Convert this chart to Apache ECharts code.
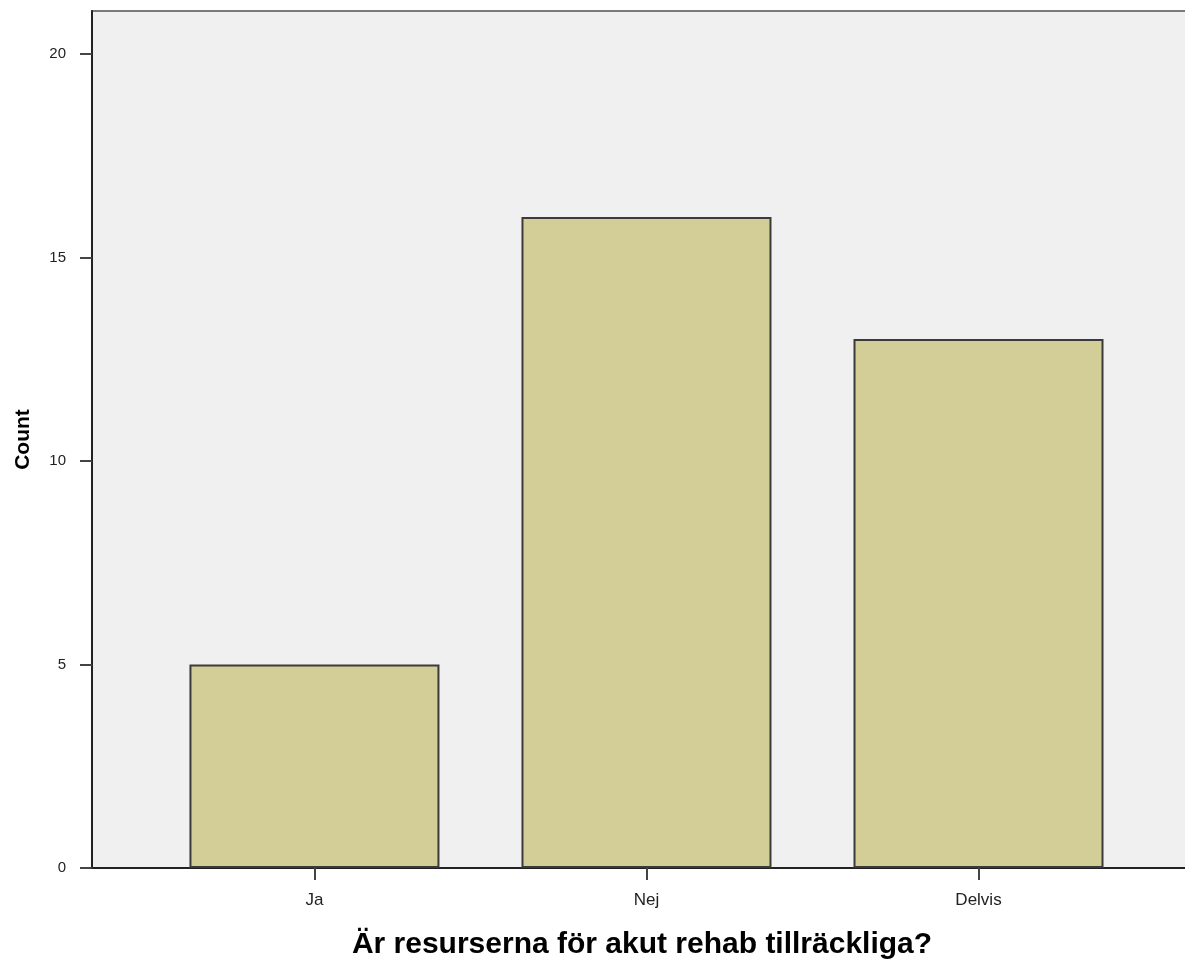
<!DOCTYPE html>
<html>
<head>
<meta charset="utf-8">
<script src="https://cdn.jsdelivr.net/npm/echarts@6/dist/echarts.min.js"></script>
<style>
html,body{margin:0;padding:0;background:#fff;}
#chart{width:1185px;height:959px;}
</style>
</head>
<body>
<div id="chart"></div>
<script>
const categories = ['Ja', 'Nej', 'Delvis'];
const counts = [5, 16, 13];
const yTicks = [0, 5, 10, 15, 20];

const chart = echarts.init(document.getElementById('chart'), null, {renderer: 'canvas'});
const font = 'Liberation Sans, Arial, sans-serif';
const option = {
  animation: false,
  backgroundColor: '#ffffff',
  grid: {
    left: 92, top: 11, width: 1100, bottom: 91,
    outerBoundsMode: 'none',
    containLabel: false,
    show: true, backgroundColor: '#f0f0f0', borderColor: '#7a7a7a', borderWidth: 2
  },
  xAxis: {
    type: 'value',
    min: -0.670, max: 2.643,
    name: 'Är resurserna för akut rehab tillräckliga?',
    nameLocation: 'middle',
    nameGap: 62,
    nameTextStyle: {fontFamily: font, fontWeight: 'bold', fontSize: 30, color: '#000'},
    axisLine: {show: true, onZero: false, lineStyle: {color: '#222', width: 2}},
    axisTick: {show: true, customValues: [0, 1, 2], length: 12, lineStyle: {color: '#444', width: 2}},
    axisLabel: {
      customValues: [0, 1, 2], margin: 24,
      fontFamily: font, fontSize: 17, color: '#222',
      formatter: v => categories[Math.round(v)]
    },
    splitLine: {show: false}
  },
  yAxis: {
    type: 'value',
    min: 0, max: 21.06, interval: 5,
    name: 'Count',
    nameLocation: 'middle',
    nameGap: 58,
    nameTextStyle: {fontFamily: font, fontWeight: 'bold', fontSize: 21, color: '#000'},
    axisLine: {show: true, onZero: false, lineStyle: {color: '#222', width: 2}},
    axisTick: {show: true, customValues: yTicks, length: 12, lineStyle: {color: '#444', width: 2}},
    axisLabel: {
      customValues: yTicks, margin: 26, fontFamily: font, fontSize: 15, color: '#222'
    },
    splitLine: {show: false}
  },
  series: [{
    type: 'bar',
    data: categories.map((c, i) => [i, counts[i]]),
    barWidth: 250,
    itemStyle: {color: '#d3cd97', borderColor: '#3a3a3a', borderWidth: 2}
  }]
};
chart.setOption(option);
</script>
</body>
</html>
